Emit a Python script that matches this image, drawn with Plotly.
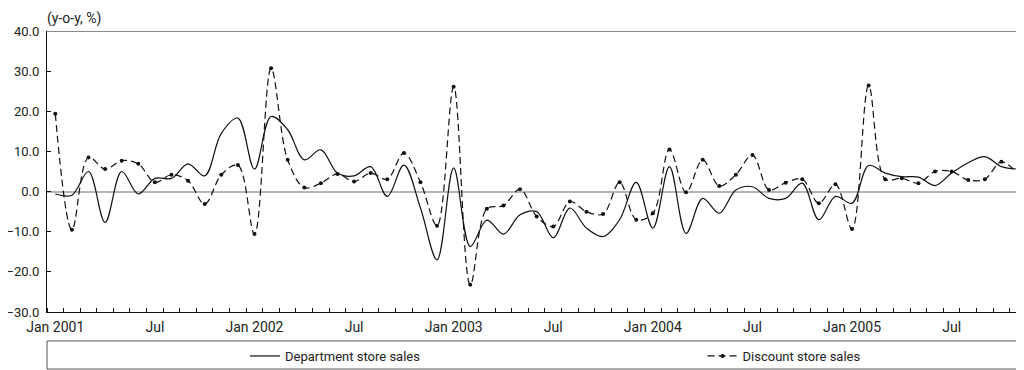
import plotly.graph_objects as go

# Categories: monthly, Jan 2001 .. Nov 2005
month_names = ["Jan", "Feb", "Mar", "Apr", "May", "Jun",
               "Jul", "Aug", "Sep", "Oct", "Nov", "Dec"]
months = [f"{m} {y}" for y in range(2001, 2006) for m in month_names][:59]

# Series values (y-o-y, %)
dept_sales = [-0.6, -0.9, 5.0, -7.7, 5.0, -0.6, 3.3, 3.3, 6.9, 3.9,
              14.5, 18.3, 5.6, 18.7, 15.4, 7.9, 10.4, 4.6, 3.9, 6.2,
              -1.2, 6.6, -4.1, -17.0, 5.9, -13.7, -7.1, -10.6, -5.8, -5.0,
              -11.5, -4.1, -9.1, -11.2, -7.0, 2.3, -9.1, 6.2, -10.4, -1.7,
              -5.4, 0.4, 1.2, -1.7, -1.7, 2.1, -7.0, -1.2, -2.9, 6.5,
              4.6, 3.7, 3.6, 1.5, 4.6, 7.2, 8.7, 6.2, 5.6]
disc_sales = [19.4, -9.5, 8.5, 5.6, 7.7, 6.9, 2.3, 4.2, 2.7, -3.1,
              4.2, 6.6, -10.6, 30.7, 7.9, 1.0, 2.1, 4.4, 2.5, 4.6,
              3.1, 9.6, 2.3, -8.5, 26.1, -23.2, -4.3, -3.5, 0.6, -6.2,
              -8.7, -2.5, -5.0, -5.6, 2.3, -7.0, -5.4, 10.5, -0.2, 7.9,
              1.4, 4.2, 9.1, 0.4, 2.2, 3.1, -2.9, 1.8, -9.3, 26.4,
              3.1, 3.3, 2.1, 5.0, 5.0, 2.9, 3.1, 7.4, 4.4]

# Tick labels
tick_months = ["Jan 2001", "Jul 2001", "Jan 2002", "Jul 2002", "Jan 2003",
               "Jul 2003", "Jan 2004", "Jul 2004", "Jan 2005", "Jul 2005"]
tick_labels = ["Jan 2001", "Jul", "Jan 2002", "Jul", "Jan 2003",
               "Jul", "Jan 2004", "Jul", "Jan 2005", "Jul"]
y_ticks = [-30, -20, -10, 0, 10, 20, 30, 40]

FONT = "Roboto, Lato, 'Noto Sans', sans-serif"
TXT = "#222222"

xs = list(range(len(months)))
tickvals = [months.index(m) for m in tick_months]

fig = go.Figure()
fig.add_trace(go.Scatter(
    x=xs, y=dept_sales, name="Department store sales", mode="lines",
    line=dict(color="#111111", width=1.2, shape="spline", smoothing=1.0),
    customdata=months, hovertemplate="%{customdata}: %{y:.1f}<extra></extra>",
    legend="legend",
))
fig.add_trace(go.Scatter(
    x=xs, y=disc_sales, name="Discount store sales", mode="lines+markers",
    line=dict(color="#111111", width=1.2, dash="7px,4px", shape="spline", smoothing=1.0),
    marker=dict(color="#111111", size=4, symbol="circle"),
    customdata=months, hovertemplate="%{customdata}: %{y:.1f}<extra></extra>",
    legend="legend2",
))

# top border line (gray) at 40
fig.add_shape(type="line", xref="paper", yref="y", x0=0, x1=1, y0=40, y1=40,
              line=dict(color="#8a8a8a", width=2), layer="below")
# legend frame
fig.add_shape(type="rect", xref="paper", yref="paper", x0=0, x1=1.05,
              y0=-0.203, y1=-0.103, line=dict(color="#555555", width=1),
              fillcolor="rgba(0,0,0,0)")

fig.add_annotation(text="(y-o-y, %)", xref="paper", yref="paper", x=0, y=1.0,
                   xanchor="left", yanchor="top", showarrow=False, yshift=23,
                   xshift=-2, font=dict(family=FONT, size=14, color=TXT))

leg_common = dict(orientation="h", yref="paper", y=-0.1566, yanchor="middle",
                  xanchor="left", font=dict(family=FONT, size=13, color=TXT),
                  bgcolor="rgba(0,0,0,0)", borderwidth=0, itemwidth=30)

# page body has an 8px default margin, so the figure is sized to fit the window
fig.update_layout(
    width=1016, height=362,
    margin=dict(l=39, r=0, t=23, b=58, autoexpand=False),
    paper_bgcolor="white", plot_bgcolor="white",
    font=dict(family=FONT, size=13, color=TXT),
    showlegend=True,
    legend=dict(x=0.2027, **leg_common),
    legend2=dict(x=0.671, **leg_common),
    xaxis=dict(
        range=[-0.5, 58.36], showgrid=False, zeroline=False, automargin=False,
        showline=True, linecolor="#111111", linewidth=1.2,
        tickmode="array", tickvals=tickvals, ticktext=tick_labels,
        ticks="", ticklabelstandoff=2,
        tickfont=dict(family=FONT, size=14, color=TXT),
        minor=dict(tick0=0.5, dtick=1, ticks="inside", ticklen=4,
                   tickcolor="#111111", tickwidth=1, showgrid=False),
        fixedrange=True,
    ),
    yaxis=dict(
        range=[-30, 40], tickvals=y_ticks, tickformat=".1f", automargin=False,
        showgrid=False, zeroline=True, zerolinecolor="#b5b5b5", zerolinewidth=1.6,
        showline=True, linecolor="#111111", linewidth=1.2,
        ticks="inside", ticklen=4, tickcolor="#111111", ticklabelstandoff=4,
        tickfont=dict(family=FONT, size=13, color=TXT),
        fixedrange=True,
    ),
)

fig.write_html("out.html")
